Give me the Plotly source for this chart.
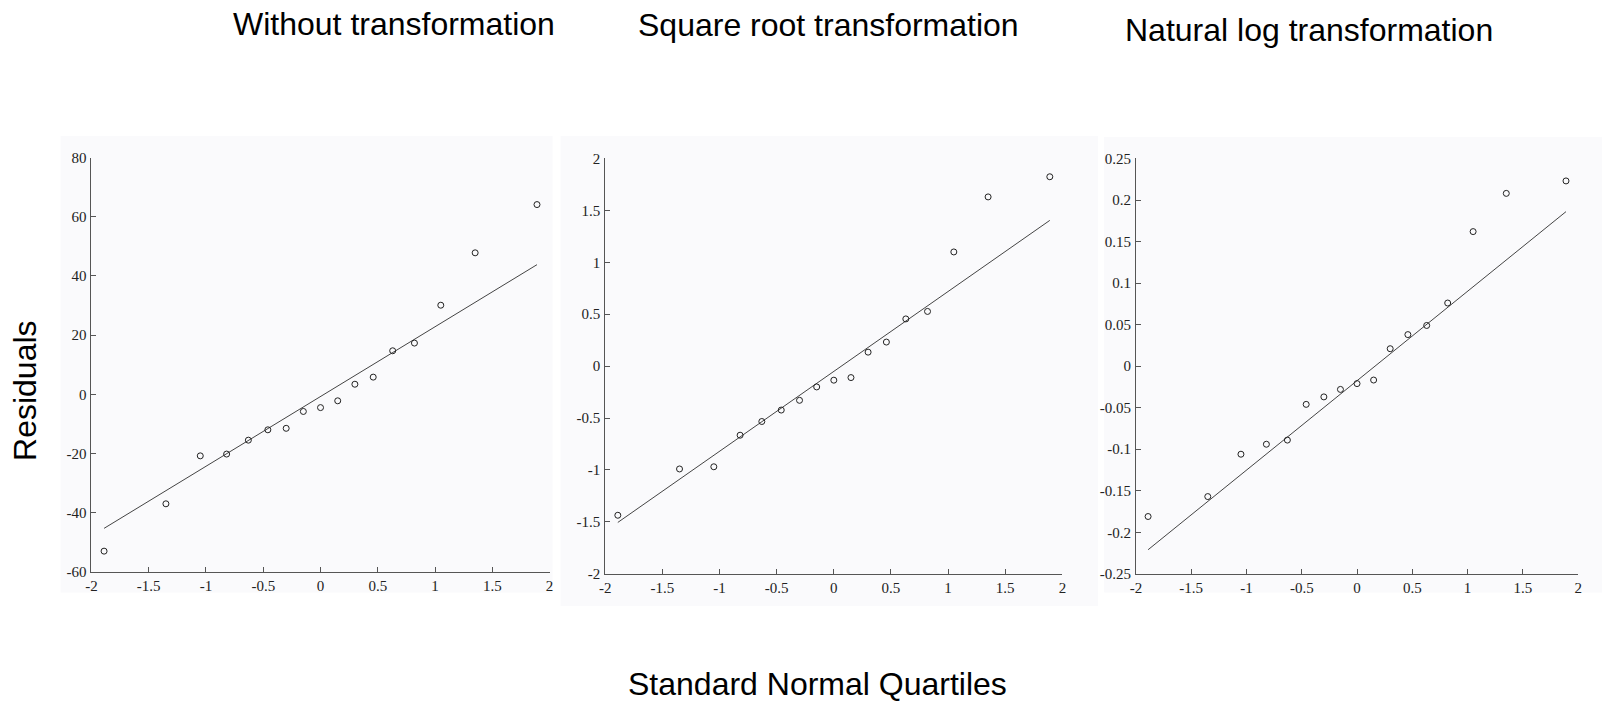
import plotly.graph_objects as go

# Standard normal quantiles (x) shared by all panels
quantiles = [-1.89, -1.35, -1.05, -0.82, -0.63, -0.46, -0.30, -0.15, 0.0,
             0.15, 0.30, 0.46, 0.63, 0.82, 1.05, 1.35, 1.89]

resid_raw = [-53.0, -37.0, -20.8, -20.2, -15.5, -12.0, -11.5, -5.8, -4.5,
             -2.2, 3.4, 5.8, 14.7, 17.3, 30.1, 47.8, 64.1]
resid_sqrt = [-1.436, -0.99, -0.969, -0.665, -0.533, -0.423, -0.329, -0.20, -0.135,
              -0.11, 0.135, 0.232, 0.455, 0.527, 1.10, 1.63, 1.824]
resid_log = [-0.181, -0.157, -0.106, -0.094, -0.089, -0.046, -0.037, -0.028, -0.021,
             -0.0167, 0.021, 0.038, 0.049, 0.076, 0.162, 0.208, 0.223]

# reference line endpoints
line_x = [-1.89, 1.89]
line_raw = [-45.3, 43.8]
line_sqrt = [-1.505, 1.404]
line_log = [-0.221, 0.186]

titles = ["Without transformation", "Square root transformation", "Natural log transformation"]
x_ticks = [-2, -1.5, -1, -0.5, 0, 0.5, 1, 1.5, 2]
x_ticktext = ["-2", "-1.5", "-1", "-0.5", "0", "0.5", "1", "1.5", "2"]
y_ticks_raw = [-60, -40, -20, 0, 20, 40, 60, 80]
y_ticktext_raw = ["-60", "-40", "-20", "0", "20", "40", "60", "80"]
y_ticks_sqrt = [-2, -1.5, -1, -0.5, 0, 0.5, 1, 1.5, 2]
y_ticktext_sqrt = ["-2", "-1.5", "-1", "-0.5", "0", "0.5", "1", "1.5", "2"]
y_ticks_log = [-0.25, -0.2, -0.15, -0.1, -0.05, 0, 0.05, 0.1, 0.15, 0.2, 0.25]
y_ticktext_log = ["-0.25", "-0.2", "-0.15", "-0.1", "-0.05", "0", "0.05", "0.1", "0.15", "0.2", "0.25"]

W, H = 1606, 703

def px_x(p):
    return p / W

def px_y(p):
    return 1 - p / H

panels = [
    dict(res=resid_raw, line=line_raw, yr=[-60, 80], yt=y_ticks_raw, ytt=y_ticktext_raw,
         xd=[86, 547], yd=[153, 577], bg=[55, 131, 550, 598]),
    dict(res=resid_sqrt, line=line_sqrt, yr=[-2, 2], yt=y_ticks_sqrt, ytt=y_ticktext_sqrt,
         xd=[603, 1063], yd=[154, 579], bg=[558, 131, 1099, 612]),
    dict(res=resid_log, line=line_log, yr=[-0.25, 0.25], yt=y_ticks_log, ytt=y_ticktext_log,
         xd=[1137, 1582], yd=[154, 579], bg=[1105, 132, 1606, 598]),
]

fig = go.Figure()
shapes = []
axis_color = "#555555"
tick_font = dict(family="Liberation Serif, Times New Roman, serif", size=15, color="#222222")

for i, p in enumerate(panels):
    n = "" if i == 0 else str(i + 1)
    fig.add_trace(go.Scatter(x=line_x, y=p["line"], mode="lines",
                             line=dict(color="#444444", width=1),
                             xaxis="x" + n, yaxis="y" + n, showlegend=False, hoverinfo="skip"))
    fig.add_trace(go.Scatter(x=quantiles, y=p["res"], mode="markers",
                             marker=dict(symbol="circle-open", size=6, color="#222222",
                                         line=dict(width=1, color="#222222")),
                             xaxis="x" + n, yaxis="y" + n, showlegend=False))
    common = dict(showline=True, linecolor=axis_color, linewidth=1, ticks="inside",
                  ticklen=5, tickcolor=axis_color, tickwidth=1, showgrid=False,
                  zeroline=False, mirror=False, tickfont=tick_font)
    fig.layout["xaxis" + n] = dict(domain=[px_x(p["xd"][0]), px_x(p["xd"][1])],
                                   range=[-2, 2], tickvals=x_ticks, ticktext=x_ticktext,
                                   anchor="y" + n, ticklabelstandoff=0, **common)
    fig.layout["yaxis" + n] = dict(domain=[px_y(p["yd"][1]), px_y(p["yd"][0])],
                                   range=p["yr"], tickvals=p["yt"], ticktext=p["ytt"],
                                   anchor="x" + n, ticklabelstandoff=1, **common)
    b = p["bg"]
    shapes.append(dict(type="rect", xref="paper", yref="paper",
                       x0=px_x(b[0]), x1=px_x(b[2]), y0=px_y(b[3]), y1=px_y(b[1]),
                       fillcolor="#fafafc", line=dict(width=0), layer="below"))

title_font = dict(family="Liberation Sans, Arial, sans-serif", size=32, color="#000000")
annotations = [
    dict(text=titles[0], x=px_x(390), y=px_y(16), xref="paper", yref="paper",
         xanchor="center", yanchor="middle", showarrow=False, font=title_font),
    dict(text=titles[1], x=px_x(828), y=px_y(17), xref="paper", yref="paper",
         xanchor="center", yanchor="middle", showarrow=False, font=title_font),
    dict(text=titles[2], x=px_x(1311), y=px_y(23), xref="paper", yref="paper",
         xanchor="center", yanchor="middle", showarrow=False, font=title_font),
    dict(text="Residuals", x=px_x(19), y=px_y(391), xref="paper", yref="paper",
         xanchor="center", yanchor="middle", textangle=-90, showarrow=False, font=title_font),
    dict(text="Standard Normal Quartiles", x=px_x(817), y=px_y(692), xref="paper", yref="paper",
         xanchor="center", yanchor="middle", showarrow=False, font=title_font),
]

fig.update_layout(width=W, height=H, margin=dict(l=0, r=0, t=0, b=0),
                  paper_bgcolor="white", plot_bgcolor="rgba(0,0,0,0)",
                  shapes=shapes, annotations=annotations)

fig.write_html("out.html", config={"displayModeBar": False},
               post_script="document.body.style.margin='0';document.body.style.overflow='hidden';")
